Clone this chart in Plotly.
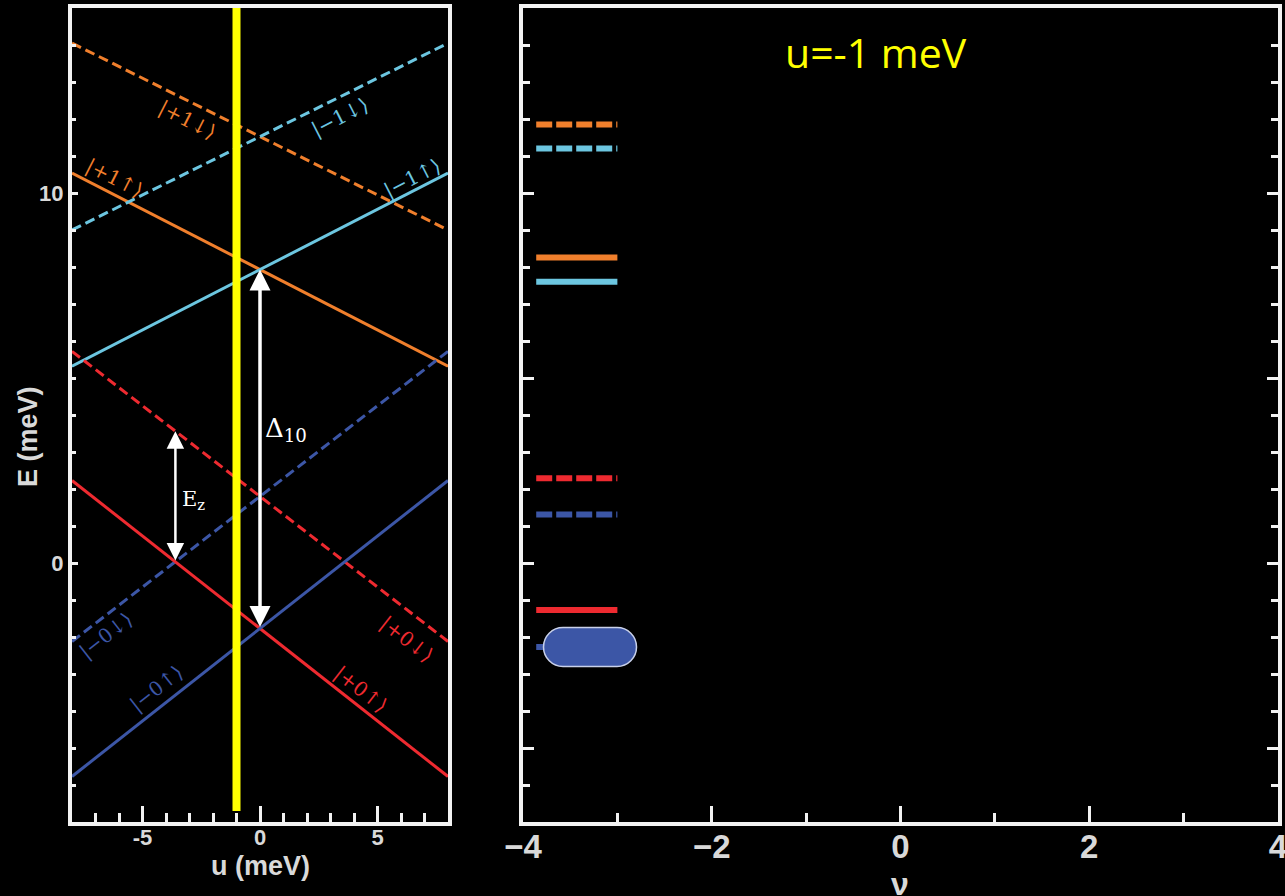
import plotly.graph_objects as go

# ---------------- data ----------------
# Left panel: single-particle levels E(u), straight lines given at the ends of the u window
u_ends = [-8, 8]
line_names = ["|+1↑⟩", "|−1↑⟩", "|+1↓⟩", "|−1↓⟩", "|+0↓⟩", "|−0↓⟩", "|+0↑⟩", "|−0↑⟩"]
E_plus1_up = [10.54, 5.32]
E_minus1_up = [5.32, 10.54]
E_plus1_dn = [14.05, 9.00]
E_minus1_dn = [9.00, 14.05]
E_plus0_dn = [5.72, -2.12]
E_minus0_dn = [-2.12, 5.72]
E_plus0_up = [2.23, -5.77]
E_minus0_up = [-5.77, 2.23]

# Right panel: the same eight levels at u = -1 meV (same order as line_names)
u_cut = -1
level_E = [8.26, 7.60, 11.85, 11.20, 2.29, 1.31, -1.27, -2.27]
level_nu = [-3.86, -3.0]
filled_level_nu = -3.29           # centre of the filled (occupied) level marker

# Gap arrows
delta_u, delta_E = 0, [-1.77, 7.93]
ez_u, ez_E = -3.6, [0.03, 3.56]

# Label positions (u, E, angle)
label_pos = [(-6.19, 10.40, 27), (6.48, 10.40, -27), (-3.07, 11.97, 27), (3.41, 12.03, -27),
             (6.23, -2.08, 38), (-6.53, -1.97, -38), (4.27, -3.43, 38), (-4.39, -3.38, -38)]

# ---------------- style ----------------
ORANGE = "#f07f2c"
CYAN = "#6cc6e0"
RED = "#ee2a30"
BLUE = "#3c56a6"
FRAME = "#f2f2f2"
GREY = "#d9d9d9"

series = [
    (E_plus1_up, ORANGE, "solid"),
    (E_minus1_up, CYAN, "solid"),
    (E_plus1_dn, ORANGE, "dash"),
    (E_minus1_dn, CYAN, "dash"),
    (E_plus0_dn, RED, "dash"),
    (E_minus0_dn, BLUE, "dash"),
    (E_plus0_up, RED, "solid"),
    (E_minus0_up, BLUE, "solid"),
]

W, H = 1285, 896
fig = go.Figure()

for (E, col, ls), name in zip(series, line_names):
    fig.add_trace(go.Scatter(
        x=u_ends, y=E, mode="lines", name=name, showlegend=False,
        line=dict(color=col, width=3, dash="10px,5px" if ls == "dash" else "solid"),
        xaxis="x", yaxis="y", hoverinfo="skip"))

for (E, col, ls), lev, name in zip(series, level_E, line_names):
    fig.add_trace(go.Scatter(
        x=level_nu, y=[lev, lev], mode="lines", name=name, showlegend=False,
        line=dict(color=col, width=6, dash="16px,4px" if ls == "dash" else "solid"),
        xaxis="x2", yaxis="y2", hoverinfo="skip"))

# occupied level drawn as a rounded bar
r, hw = 19.5, 46.5
k = 0.5523 * r
cx = hw - r
pill = (f"M {-cx},{-r} L {cx},{-r} C {cx+k},{-r} {hw},{-k} {hw},0 "
        f"C {hw},{k} {cx+k},{r} {cx},{r} L {-cx},{r} "
        f"C {-cx-k},{r} {-hw},{k} {-hw},0 C {-hw},{-k} {-cx-k},{-r} {-cx},{-r} Z")
fig.add_shape(type="path", xref="x2", yref="y2", xsizemode="pixel", ysizemode="pixel",
              xanchor=filled_level_nu, yanchor=level_E[7], path=pill,
              fillcolor=BLUE, line=dict(color="#c9d1ea", width=1.5), layer="above")

# cut at u = -1 meV
fig.add_shape(type="line", xref="x", yref="y", x0=u_cut, x1=u_cut, y0=-6.7, y1=15,
              line=dict(color="#ffff00", width=8), layer="above")

# state labels
label_cols = [s[1] for s in series]
for name, (lu, le, ang), col in zip(line_names, label_pos, label_cols):
    fig.add_annotation(x=lu, y=le, xref="x", yref="y", text=name, showarrow=False,
                       textangle=ang, font=dict(family="DejaVu Serif", size=20, color=col))

# gap arrows
fig.add_annotation(x=delta_u, y=delta_E[1], ax=delta_u, ay=delta_E[0], xref="x", yref="y",
                   axref="x", ayref="y", text="", showarrow=True, arrowhead=2,
                   arrowside="end+start", arrowsize=1.2, arrowwidth=3.5, arrowcolor="white",
                   standoff=0, startstandoff=0)
fig.add_annotation(x=ez_u, y=ez_E[1], ax=ez_u, ay=ez_E[0], xref="x", yref="y",
                   axref="x", ayref="y", text="", showarrow=True, arrowhead=2,
                   arrowside="end+start", arrowsize=1.4, arrowwidth=2.5, arrowcolor="white",
                   standoff=0, startstandoff=0)
fig.add_annotation(x=0.12, y=3.6, xref="x", yref="y", xanchor="left", showarrow=False,
                   text="Δ<sub>10</sub>", font=dict(family="DejaVu Serif", size=26, color="white"))
fig.add_annotation(x=-3.4, y=1.7, xref="x", yref="y", xanchor="left", showarrow=False,
                   text="E<sub>z</sub>", font=dict(family="DejaVu Serif", size=21, color="white"))

# panel caption
fig.add_annotation(x=876 / W, y=1 - 52 / H, xref="paper", yref="paper", showarrow=False,
                   xanchor="center", yanchor="middle",
                   text="u=-1 meV", font=dict(family="Open Sans", size=41, color="#ffff00"))

tick_font_l = dict(family="Liberation Sans", size=22, color=GREY, weight="bold")
tick_font_r = dict(family="Liberation Sans", size=33, color=GREY, weight="bold")
title_font = dict(family="Liberation Sans", size=27, color=GREY, weight="bold")

# axis titles
fig.add_annotation(x=260 / W, y=1 - 866 / H, xref="paper", yref="paper", showarrow=False,
                   xanchor="center", yanchor="middle", text="u (meV)", font=title_font)
fig.add_annotation(x=28 / W, y=1 - 437 / H, xref="paper", yref="paper", showarrow=False,
                   xanchor="center", yanchor="middle", textangle=-90, text="E (meV)",
                   font=title_font)
fig.add_annotation(x=900 / W, y=1 - 884 / H, xref="paper", yref="paper", showarrow=False,
                   xanchor="center", yanchor="middle", text="ν",
                   font=dict(family="Liberation Sans", size=32, color=GREY, weight="bold"))

common = dict(showline=True, linewidth=4, linecolor=FRAME, showgrid=False, zeroline=False,
              ticks="inside", tickcolor=FRAME, tickwidth=3, automargin=False)

y_dom = [1 - 822 / H, 1 - 8 / H]

fig.update_layout(
    width=W, height=H, margin=dict(l=0, r=0, t=0, b=0, autoexpand=False),
    paper_bgcolor="black", plot_bgcolor="black", showlegend=False,
    xaxis=dict(domain=[72 / W, 448 / W], range=[-8, 8], mirror=True,
               tickvals=[-5, 0, 5], ticktext=["-5", "0", "5"], ticklen=16,
               ticklabelstandoff=-7,
               minor=dict(ticks="inside", tickmode="linear", tick0=0, dtick=1, ticklen=9,
                          tickwidth=3, tickcolor=FRAME, showgrid=False),
               tickfont=tick_font_l, **common),
    yaxis=dict(domain=y_dom, range=[-7, 15], mirror=True, anchor="x",
               tickvals=[0, 10], ticktext=["0", "10"], ticklen=6,
               minor=dict(ticks="inside", tickmode="linear", tick0=0, dtick=1, ticklen=4,
                          tickwidth=3, tickcolor=FRAME, showgrid=False),
               tickfont=tick_font_l, **common),
    xaxis2=dict(domain=[523 / W, 1278 / W], range=[-4, 4], mirror=True, anchor="y2",
                tickvals=[-4, -2, 0, 2, 4], ticklen=16, ticklabeloverflow="allow",
                ticklabelstandoff=-8,
                minor=dict(ticks="inside", tickmode="linear", tick0=0, dtick=1, ticklen=9,
                           tickwidth=3, tickcolor=FRAME, showgrid=False),
                tickfont=tick_font_r, **common),
    yaxis2=dict(domain=y_dom, range=[-7, 15], mirror="allticks", anchor="x2",
                tickmode="linear", tick0=0, dtick=5, ticklen=11, showticklabels=False,
                minor=dict(ticks="inside", tickmode="linear", tick0=0, dtick=1, ticklen=7,
                           tickwidth=3, tickcolor=FRAME, showgrid=False),
                **common),
)

fig.write_html("out.html")
